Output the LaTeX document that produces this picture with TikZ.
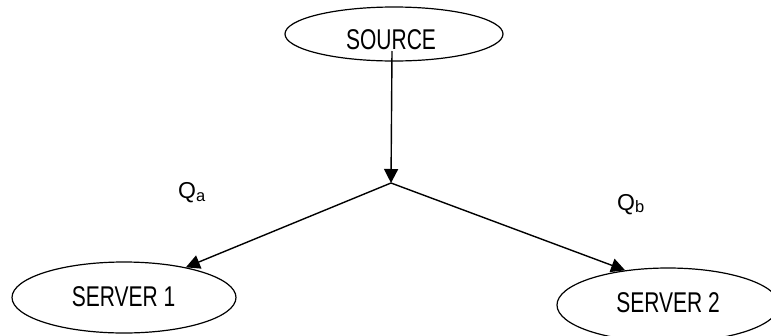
\documentclass[tikz,border=0pt]{standalone}
\usepackage{fontspec}
\setmainfont{Liberation Sans}
\usetikzlibrary{shapes.geometric,arrows.meta}
\tikzset{
  ell/.style={draw, ellipse, line width=1.2pt, inner sep=0pt},
  lbl/.style={inner sep=0pt, font=\fontsize{21}{21}\selectfont},
  qlbl/.style={inner sep=0pt, anchor=base west, font=\fontsize{23}{23}\selectfont},
  arr/.style={line width=1.4pt, -{Triangle[length=14pt,width=14pt]}}
}
\newcommand{\tallx}[1]{\scalebox{1}[1.36]{#1}}
\newcommand{\subx}[1]{\raisebox{-2.5pt}{\fontsize{16.5}{16.5}\selectfont #1}}
\begin{document}
\begin{tikzpicture}[x=1pt,y=-1pt]
\useasboundingbox (0,0) rectangle (771,335);
\clip (0,0) rectangle (771,335);
\node[ell, minimum width=218pt, minimum height=54pt] (src) at (394,34) {};
\node[lbl] (srct) at (391,39.5) {\tallx{SOURCE}};
\node[ell, minimum width=224pt, minimum height=71pt] (s1) at (124,297.5) {};
\node[lbl] (s1t) at (123.5,296.5) {\tallx{SERVER 1}};
\node[ell, minimum width=222pt, minimum height=74pt] (s2) at (668,305) {};
\node[lbl] (s2t) at (668,303) {\tallx{SERVER 2}};
\coordinate (top) at (392,51);
\coordinate (j) at (391,183);
\draw[arr] (top) -- (j);
\draw[arr] (j) -- (s1.26.6);
\draw[arr] (j) -- (s2.141);
\node[qlbl] (qa) at (178,198.5) {Q\subx{a}};
\node[qlbl] (qb) at (617,210) {Q\subx{b}};
\end{tikzpicture}
\end{document}
